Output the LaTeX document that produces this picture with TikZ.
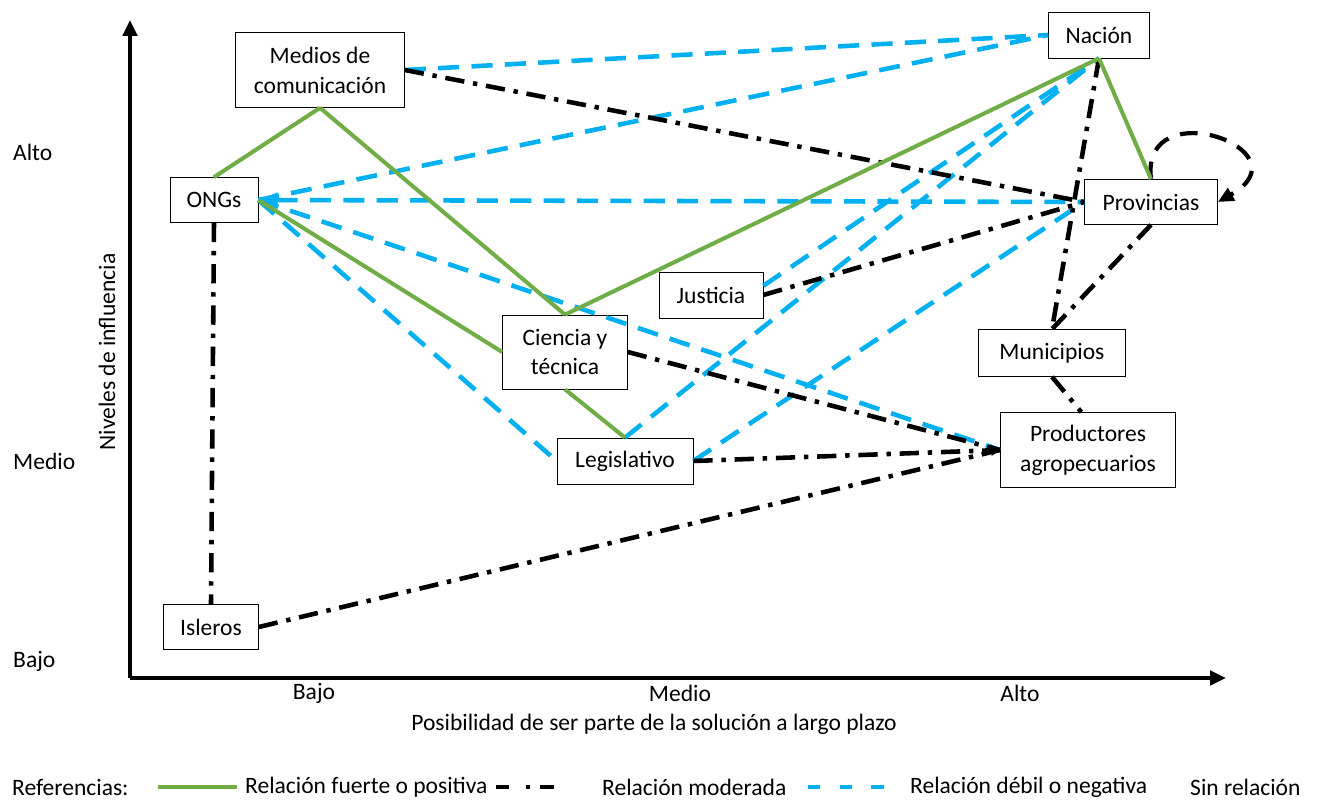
\documentclass[tikz,border=0pt]{standalone}
\usepackage{fontspec}
\setmainfont{Carlito}
\usetikzlibrary{arrows.meta}
\definecolor{verdefuerte}{HTML}{70AD47}
\definecolor{celeste}{HTML}{00B0F0}

\begin{document}
\begin{tikzpicture}[x=0.02cm,y=-0.02cm,
  font=\fontsize{13.4}{17}\selectfont,
  actor/.style={draw,thin,align=center,inner sep=0pt},
  fuerte/.style={verdefuerte,line width=2.3pt},
  moderada/.style={black,line width=2.6pt,dash pattern=on 11pt off 5pt on 2.5pt off 5pt},
  debil/.style={celeste,line width=2.6pt,dash pattern=on 12pt off 7pt},
  eje/.style={line width=2.4pt,-{Triangle[length=9pt,width=8pt]}}
]
\useasboundingbox (0,0) rectangle (1320,801);

\coordinate (origen) at (130,678);
\coordinate (ytope) at (130,20);
\coordinate (xfin) at (1226,678);
\draw[eje] (xfin -| origen) -- (ytope);
\draw[eje] (origen) -- (xfin);

\node[anchor=west] (yalto) at (7,152) {Alto};
\node[anchor=west] (ymedio) at (7,461) {Medio};
\node[anchor=west] (ybajo) at (7,661) {Bajo};
\node (xbajo) at (314,693) {Bajo};
\node (xmedio) at (680,693) {Medio};
\node (xalto) at (1020,693) {Alto};
\node (xtitulo) at (654,724) {Posibilidad de ser parte de la solución a largo plazo};
\node[rotate=90] (ytitulo) at (107,352) {Niveles de influencia};

\node[actor,minimum width=3.38cm,minimum height=1.5cm] (medios) at (320,70) {Medios de\\comunicación};
\node[actor,minimum width=1.76cm,minimum height=0.9cm] (ongs) at (214,200) {ONGs};
\node[actor,minimum width=2.02cm,minimum height=0.92cm] (nacion) at (1099,35) {Nación};
\node[actor,minimum width=2.66cm,minimum height=0.9cm] (provincias) at (1151,202) {Provincias};
\node[actor,minimum width=2.08cm,minimum height=0.92cm] (justicia) at (711,295) {Justicia};
\node[actor,minimum width=2.5cm,minimum height=1.48cm] (ciencia) at (565,352) {Ciencia y\\técnica};
\node[actor,minimum width=2.72cm,minimum height=0.92cm] (legislativo) at (625,461) {Legislativo};
\node[actor,minimum width=2.94cm,minimum height=0.94cm] (municipios) at (1052,353) {Municipios};
\node[actor,minimum width=3.5cm,minimum height=1.5cm] (productores) at (1088,450) {Productores\\agropecuarios};
\node[actor,minimum width=1.9cm,minimum height=0.9cm] (isleros) at (211,627) {Isleros};

\draw[debil] (medios.east) -- (nacion.west);
\draw[debil] (ongs.east) -- (nacion.west);
\draw[debil,{Triangle[length=11pt,width=8pt]}-] (ongs.east) -- (provincias.west);
\draw[debil] (ongs.east) -- (productores.west);
\draw[debil] (ongs.east) -- (legislativo.west);
\draw[debil] (legislativo.north) -- (nacion.south);
\draw[debil] (legislativo.east) -- (provincias.west);
\draw[debil] (justicia.10) -- (nacion.south);

\draw[moderada] (medios.east) -- (provincias.west);
\draw[moderada] (ongs.south) -- (isleros.north);
\draw[moderada] (isleros.east) -- (productores.west);
\draw[moderada,-{Triangle[length=5pt,width=6pt]}] (legislativo.east) -- (productores.west);
\draw[moderada] (ciencia.east) -- (productores.west);
\draw[moderada] (justicia.east) -- (provincias.west);
\draw[moderada] (nacion.south) -- (municipios.north);
\draw[moderada] (provincias.south) -- (municipios.north);
\draw[moderada] (municipios.south) -- (productores.100);
\draw[black,line width=2.4pt,dash pattern=on 10pt off 7pt,-{Triangle[length=9pt,width=8pt]}]
  (provincias.north) .. controls (1140,90) and (1310,150) .. (provincias.east);

\draw[fuerte] (ongs.north) -- (medios.south);
\draw[fuerte] (medios.south) -- (ciencia.north);
\draw[fuerte] (ciencia.north) -- (nacion.south);
\draw[fuerte] (ongs.east) -- (ciencia.west);
\draw[fuerte] (ciencia.south) -- (legislativo.north);
\draw[fuerte] (nacion.south) -- (provincias.north);

\node[anchor=west] (referencias) at (6,787) {Referencias:};
\draw[fuerte] (158,787) -- (237,787);
\node[anchor=west] (reffuerte) at (239,787) {Relación fuerte o positiva};
\draw[black,line width=2.6pt,dash pattern=on 7.5pt off 9.5pt on 2.3pt off 6pt] (496,787) -- (556,787);
\node[anchor=west] (refmoderada) at (596,787) {Relación moderada};
\draw[celeste,line width=2.6pt,dash pattern=on 7pt off 11pt] (808,787) -- (888,787);
\node[anchor=west] (refdebil) at (904,787) {Relación débil o negativa};
\node[anchor=west] (refsin) at (1184,787) {Sin relación};
\end{tikzpicture}
\end{document}
